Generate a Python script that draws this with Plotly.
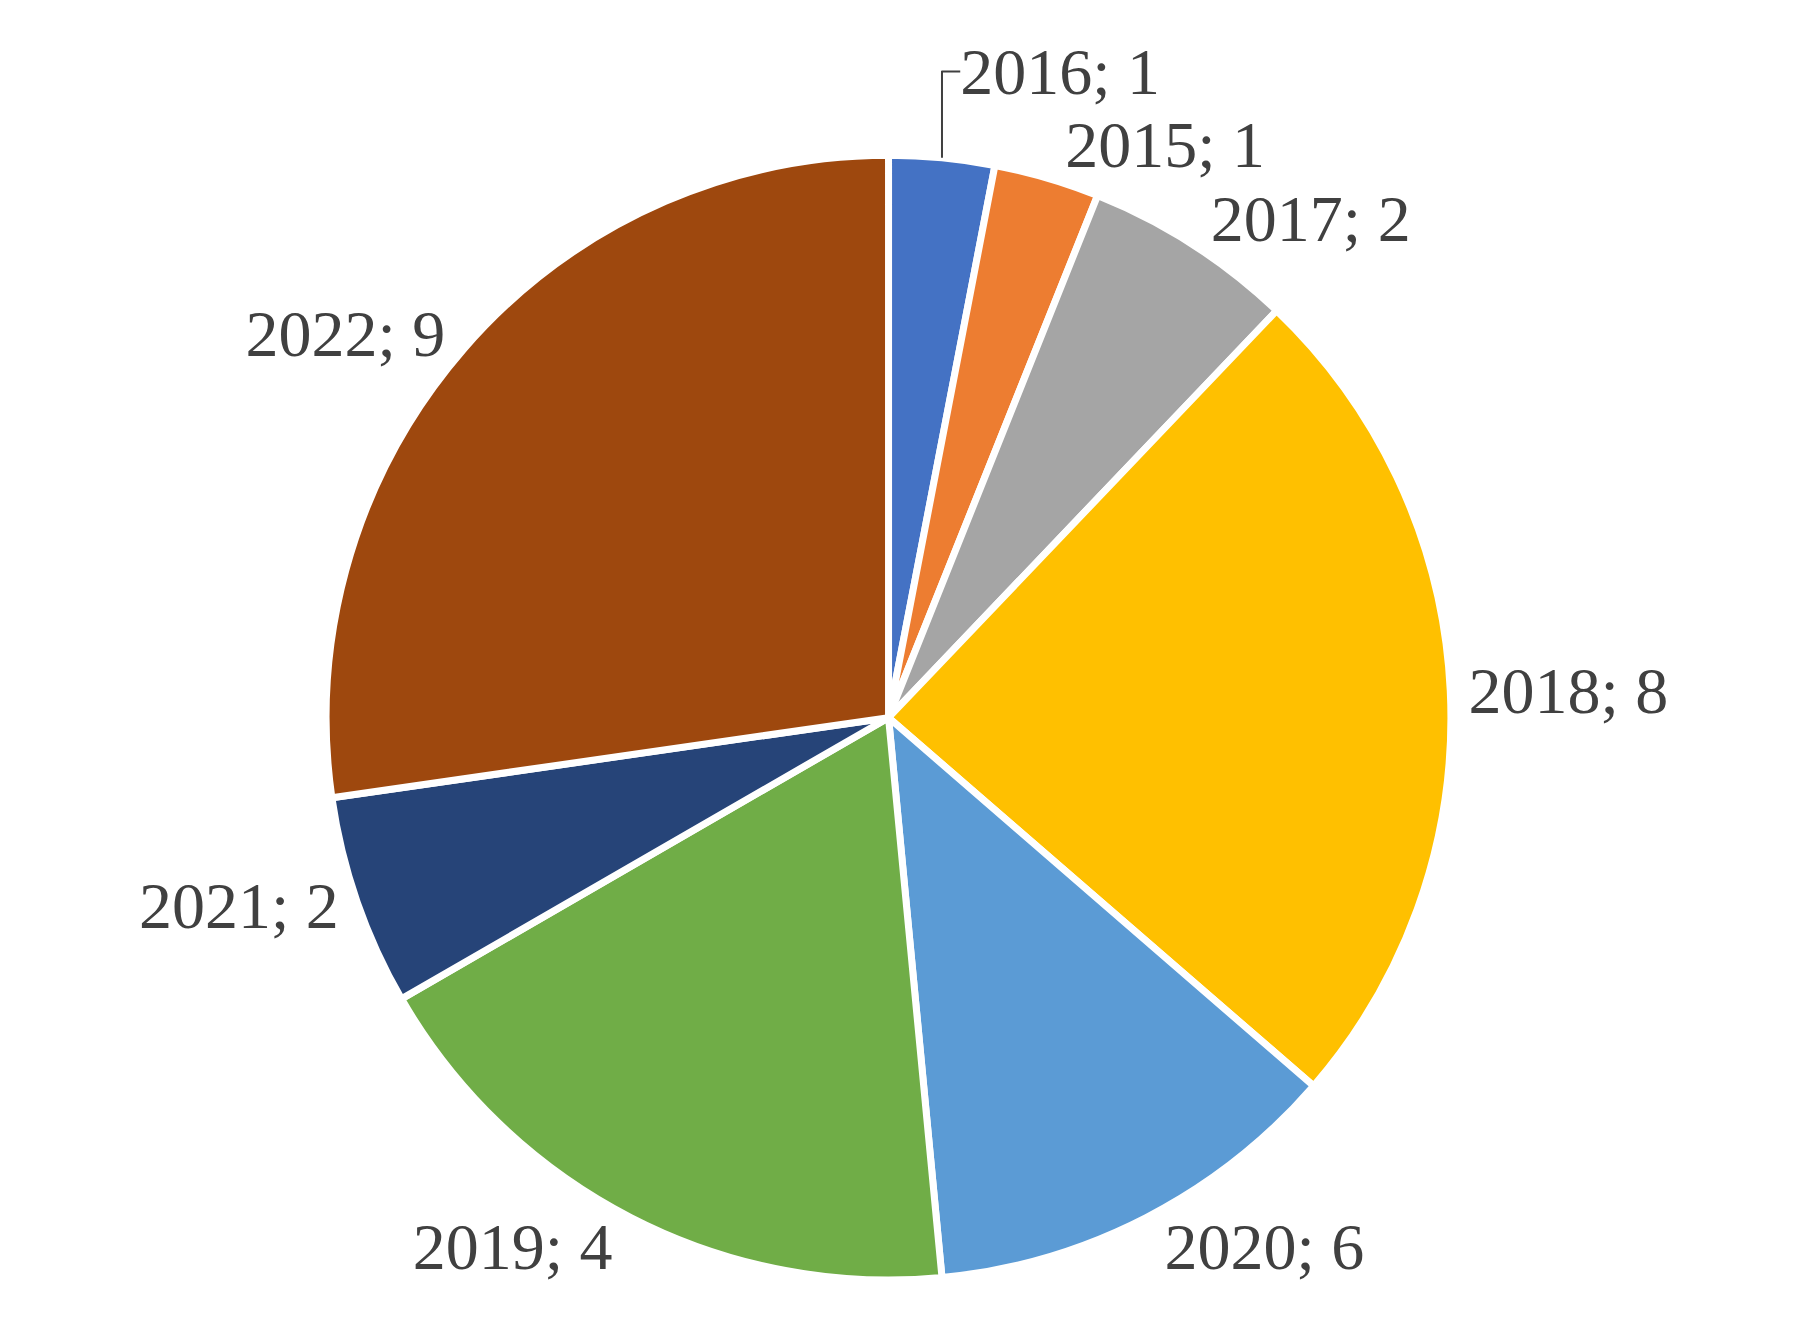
import plotly.graph_objects as go

labels = ["2016", "2015", "2017", "2018", "2020", "2019", "2021", "2022"]
# slice sizes as drawn in the reference
values = [1, 1, 2, 8, 4, 6, 2, 9]
# counts printed in the reference's labels
label_counts = [1, 1, 2, 8, 6, 4, 2, 9]
colors = ["#4472C4", "#ED7D31", "#A5A5A5", "#FFC000", "#5B9BD5", "#70AD47", "#264478", "#9E480E"]

fig = go.Figure(go.Pie(
    labels=labels, values=values, sort=False, direction="clockwise", rotation=0,
    customdata=label_counts,
    marker=dict(colors=colors, line=dict(color="white", width=7)),
    texttemplate="%{label}; %{customdata}", textposition="outside",
    textfont=dict(family="Liberation Serif", size=66, color="#404040"),
    showlegend=False, domain=dict(x=[0.17, 0.81], y=[0.05, 0.89]),
))
fig.update_layout(width=1797, height=1339, margin=dict(l=0, r=0, t=0, b=0),
                  paper_bgcolor="white", plot_bgcolor="white")
fig.write_html("out.html")
